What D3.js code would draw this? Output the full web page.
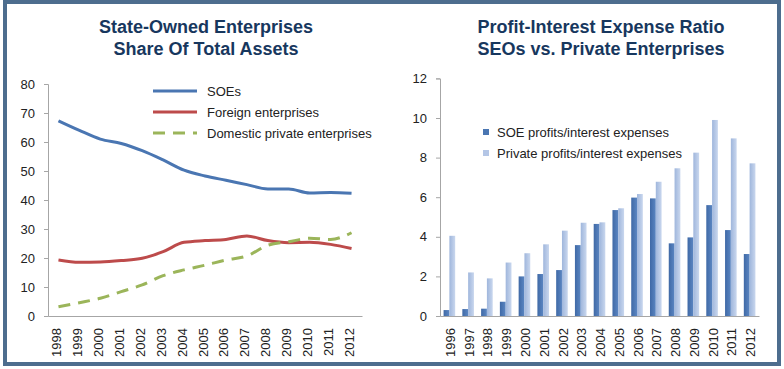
<!DOCTYPE html>
<html><head><meta charset="utf-8">
<script src="https://cdn.jsdelivr.net/npm/d3@7"></script>
<style>
html,body{margin:0;padding:0;background:#fff;}
svg{display:block;font-family:"Liberation Sans",Arial,sans-serif;}
</style></head><body>
<svg id="c" width="784" height="369"></svg>
<script>
// ---- Left chart data ----
const yearsL = ["1998","1999","2000","2001","2002","2003","2004","2005","2006","2007","2008","2009","2010","2011","2012"];
const soeShare = [67.3, 64, 61, 59.5, 57, 53.8, 50.3, 48.3, 46.8, 45.3, 43.8, 43.8, 42.4, 42.6, 42.3];
const foreignShare = [19.3, 18.5, 18.6, 19.1, 19.9, 22.2, 25.4, 26.0, 26.4, 27.6, 26.0, 25.3, 25.4, 24.7, 23.3];
const privateShare = [3.2, 4.6, 6.1, 8.4, 10.7, 13.9, 15.9, 17.5, 19.3, 20.7, 24.4, 25.6, 26.8, 26.4, 28.7];
const ticksL = [0,10,20,30,40,50,60,70,80];
const legendL = ["SOEs","Foreign enterprises","Domestic private enterprises"];
// ---- Right chart data ----
const yearsR = ["1996","1997","1998","1999","2000","2001","2002","2003","2004","2005","2006","2007","2008","2009","2010","2011","2012"];
const soeRatio = [0.3, 0.35, 0.37, 0.72, 2.0, 2.12, 2.32, 3.58, 4.65, 5.35, 5.98, 5.94, 3.67, 3.97, 5.6, 4.34, 3.13];
const privRatio = [4.05, 2.2, 1.9, 2.7, 3.17, 3.62, 4.31, 4.71, 4.73, 5.44, 6.16, 6.78, 7.46, 8.25, 9.9, 8.97, 7.71];
const ticksR = [0,2,4,6,8,10,12];
const legendR = ["SOE profits/interest expenses","Private profits/interest expenses"];

const svg = d3.select("#c");
const titleColor = "#17375E";
const axisColor = "#a6a6a6";
const textColor = "#222";

const defs = svg.append("defs");
const g1 = defs.append("linearGradient").attr("id","gSoe").attr("x1","0").attr("x2","1").attr("y1","0").attr("y2","0");
g1.append("stop").attr("offset","0").attr("stop-color","#3f69a6");
g1.append("stop").attr("offset","1").attr("stop-color","#5b86c2");
const g2 = defs.append("linearGradient").attr("id","gPriv").attr("x1","0").attr("x2","1").attr("y1","0").attr("y2","0");
g2.append("stop").attr("offset","0").attr("stop-color","#9fb6dc");
g2.append("stop").attr("offset","1").attr("stop-color","#c9d7ee");

// outer border
svg.append("rect").attr("x",5).attr("y",2).attr("width",774).attr("height",362)
  .attr("fill","none").attr("stroke","#4d6d8e").attr("stroke-width",4);

// ---------- LEFT CHART ----------
const L = {x0:48, x1:362, y0:316, y1:84};
const xL = d3.scaleBand().domain(yearsL).range([L.x0, L.x1]);
const yL = d3.scaleLinear().domain([0,80]).range([L.y0, L.y1]);

svg.append("text").attr("x",206).attr("y",33).attr("text-anchor","middle")
  .attr("font-size",18).attr("font-weight","bold").attr("fill",titleColor).text("State-Owned Enterprises");
svg.append("text").attr("x",206).attr("y",55).attr("text-anchor","middle")
  .attr("font-size",18).attr("font-weight","bold").attr("fill",titleColor).text("Share Of Total Assets");

const axL = svg.append("g").attr("transform",`translate(${L.x0},0)`)
  .call(d3.axisLeft(yL).tickValues(ticksL).tickSize(4).tickPadding(9));
const axLx = svg.append("g").attr("transform",`translate(0,${L.y0})`)
  .call(d3.axisBottom(xL).tickSize(0).tickPadding(0));
[axL, axLx].forEach(a=>{
  a.select(".domain").attr("stroke",axisColor);
  a.selectAll(".tick line").attr("stroke",axisColor);
  a.selectAll("text").attr("font-size",13).attr("fill",textColor).attr("font-family","Liberation Sans, Arial, sans-serif");
});
axLx.selectAll("text").attr("text-anchor","end").attr("dy","0.35em")
  .attr("transform","translate(-2,12) rotate(-90)").attr("y",0).attr("x",0);

const lineL = d3.line().x((d,i)=>xL(yearsL[i])+xL.bandwidth()/2).y(d=>yL(d)).curve(d3.curveMonotoneX);
const seriesL = [
  {v:soeShare, c:"#4a76b2", dash:null},
  {v:foreignShare, c:"#bd4b4b", dash:null},
  {v:privateShare, c:"#9bb55a", dash:"12,8"}
];
seriesL.forEach(s=>{
  svg.append("path").attr("d",lineL(s.v)).attr("fill","none").attr("stroke",s.c)
    .attr("stroke-width",3).attr("stroke-dasharray",s.dash);
});
// legend
legendL.forEach((t,i)=>{
  const y = 91 + i*21;
  svg.append("line").attr("x1",153).attr("x2",197).attr("y1",y).attr("y2",y)
    .attr("stroke",seriesL[i].c).attr("stroke-width",3).attr("stroke-dasharray",seriesL[i].dash);
  svg.append("text").attr("x",207).attr("y",y+5).attr("font-size",13).attr("fill",textColor).text(t);
});

// ---------- RIGHT CHART ----------
const R = {x0:440, x1:759, y0:316, y1:78.4};
const xR = d3.scaleBand().domain(yearsR).range([R.x0, R.x1]);
const yR = d3.scaleLinear().domain([0,12]).range([R.y0, R.y1]);

svg.append("text").attr("x",601).attr("y",33).attr("text-anchor","middle")
  .attr("font-size",18).attr("font-weight","bold").attr("fill",titleColor).text("Profit-Interest Expense Ratio");
svg.append("text").attr("x",601).attr("y",55).attr("text-anchor","middle")
  .attr("font-size",18).attr("font-weight","bold").attr("fill",titleColor).text("SEOs vs. Private Enterprises");

const bw = 5.8;
const barsG = svg.append("g");
yearsR.forEach((yr,i)=>{
  const cx = xR(yr)+xR.bandwidth()/2;
  barsG.append("rect").attr("x",cx-bw).attr("width",bw).attr("y",yR(soeRatio[i])).attr("height",R.y0-yR(soeRatio[i])).attr("fill","url(#gSoe)");
  barsG.append("rect").attr("x",cx).attr("width",bw).attr("y",yR(privRatio[i])).attr("height",R.y0-yR(privRatio[i])).attr("fill","url(#gPriv)");
});

const axR = svg.append("g").attr("transform",`translate(${R.x0},0)`)
  .call(d3.axisLeft(yR).tickValues(ticksR).tickSize(4).tickPadding(9));
const axRx = svg.append("g").attr("transform",`translate(0,${R.y0})`)
  .call(d3.axisBottom(xR).tickSize(0).tickPadding(0));
[axR, axRx].forEach(a=>{
  a.select(".domain").attr("stroke",axisColor);
  a.selectAll(".tick line").attr("stroke",axisColor);
  a.selectAll("text").attr("font-size",13).attr("fill",textColor).attr("font-family","Liberation Sans, Arial, sans-serif");
});
axRx.selectAll("text").attr("text-anchor","end").attr("dy","0.35em")
  .attr("transform","translate(1,12) rotate(-90)").attr("y",0).attr("x",0);

legendR.forEach((t,i)=>{
  const y = 132 + i*21;
  svg.append("rect").attr("x",483).attr("y",y-3).attr("width",6).attr("height",6)
    .attr("fill", i===0 ? "#4a76b2" : "#b4c6e6");
  svg.append("text").attr("x",497).attr("y",y+5).attr("font-size",13).attr("fill",textColor).text(t);
});
</script>
</body></html>
